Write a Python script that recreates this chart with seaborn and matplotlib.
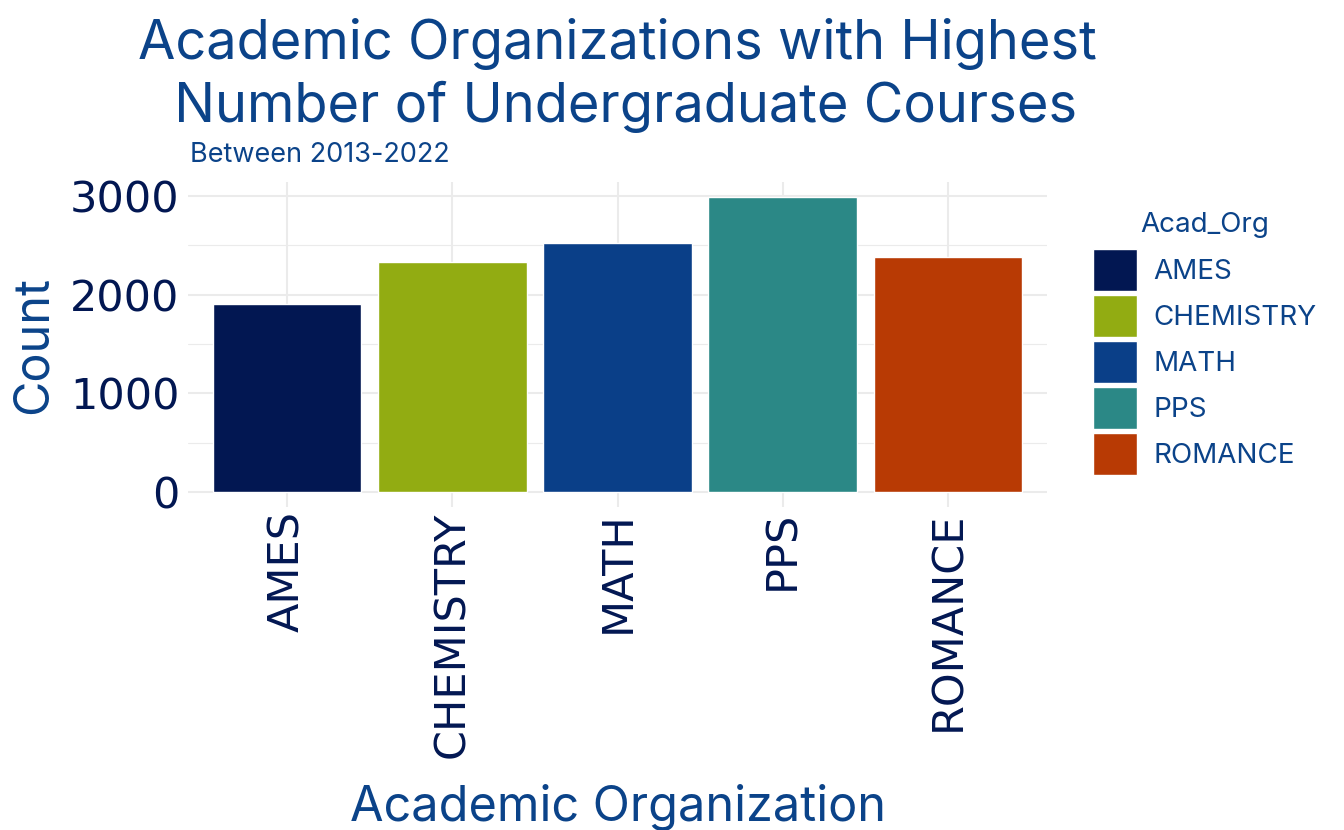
import pandas as pd
import matplotlib.pyplot as plt
import seaborn as sns
from matplotlib.ticker import MultipleLocator

# ---------- DATA ----------
orgs = ["AMES", "CHEMISTRY", "MATH", "PPS", "ROMANCE"]
counts = [1905, 2331, 2523, 2990, 2381]
bar_colors = ["#021752", "#92ac12", "#0a3f88", "#2b8886", "#b83a04"]

df = pd.DataFrame({"Acad_Org": orgs, "Count": counts})

# ---------- STYLE ----------
sns.set_theme(style="white")
plt.rcParams["font.family"] = ["Inter", "DejaVu Sans"]
title_col = "#0b4389"
tick_col = "#021752"
grid_col = "#ebebeb"

fig = plt.figure(figsize=(13.44, 8.30), dpi=100)
ax = fig.add_axes([188/1344, 1 - 507/830, (1047-188)/1344, (507-182)/830])

sns.barplot(data=df, x="Acad_Org", y="Count", hue="Acad_Org",
            palette=bar_colors, width=0.9, saturation=1, legend=True, ax=ax)

ax.set_xlim(-0.6, 4.6)
ax.set_ylim(-150, 3140)
ax.yaxis.set_major_locator(MultipleLocator(1000))
ax.yaxis.set_minor_locator(MultipleLocator(500))
ax.set_axisbelow(True)
ax.grid(which="major", axis="both", color=grid_col, linewidth=1.5)
ax.grid(which="minor", axis="y", color=grid_col, linewidth=0.8)
for s in ax.spines.values():
    s.set_visible(False)
ax.tick_params(which="both", length=0)
ax.tick_params(axis="y", pad=6, labelsize=31, labelcolor=tick_col)
ax.tick_params(axis="x", pad=3, labelsize=31, labelcolor=tick_col, rotation=90)
ax.set_yticks([0, 1000, 2000, 3000])
for lab in ax.get_xticklabels() + ax.get_yticklabels():
    lab.set_fontfamily("DejaVu Sans")

ax.set_xlabel("Academic Organization", fontsize=35, color=title_col, labelpad=19)
ax.set_ylabel("Count", fontsize=35, color=title_col, labelpad=10)

# ---------- TITLE ----------
fig.text(0.4595, 0.978, "Academic Organizations with Highest\n Number of Undergraduate Courses",
         ha="center", va="top", fontsize=39, color=title_col, linespacing=1.26)
fig.text(190/1344, 1 - 162/830, "Between 2013-2022", ha="left", va="baseline",
         fontsize=19.5, color=title_col)

# ---------- LEGEND ----------
leg = ax.legend(title="Acad_Org", loc="upper left", bbox_to_anchor=(1093/1344, 1 - 212/830),
                bbox_transform=fig.transFigure, frameon=False, fontsize=20, title_fontsize=20,
                handlelength=1.58, handleheight=1.95, labelspacing=0.144, handletextpad=0.58,
                borderaxespad=0, borderpad=0)
leg._legend_box.sep = 8  # a bit more room under the legend title
leg.get_title().set_color(title_col)
for t in leg.get_texts():
    t.set_color(title_col)

fig.savefig("out.png", dpi=100, facecolor="white")
